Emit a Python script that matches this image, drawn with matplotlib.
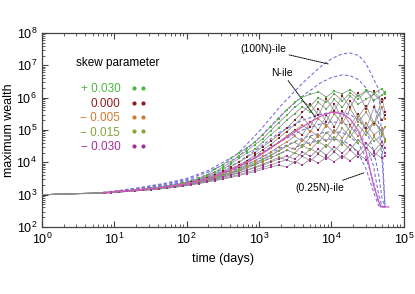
import matplotlib
matplotlib.use("Agg")
import matplotlib.pyplot as plt
from matplotlib.lines import Line2D
from matplotlib.ticker import LogLocator, LogFormatterMathtext, NullFormatter
import numpy as np

plt.rcParams["font.family"] = ["Liberation Sans", "DejaVu Sans"]
plt.rcParams["mathtext.default"] = "regular"

# sampling times (days) of the simulated runs
times = [7.1, 9.1, 11.7, 15.1, 19.5, 25.1, 32.4, 41.7, 53.7, 69.2, 89.1, 115,
         148, 191, 245, 316, 407, 525, 676, 871, 1122, 1445, 1862, 2399,
         3090, 3981, 5129, 6607, 8511, 10965, 14125, 18197, 23442, 30200,
         38905, 50119, 55000]

# log10 of maximum wealth, three runs per skew parameter
green_a = [3.06, 3.08, 3.10, 3.12, 3.15, 3.17, 3.20, 3.23, 3.27, 3.31, 3.36, 3.42, 3.50,
           3.62, 3.78, 3.92, 4.12, 4.28, 4.45, 4.62, 4.85, 5.10, 5.35, 5.62, 5.85, 6.02,
           6.10, 6.18, 6.02, 6.20, 6.12, 6.25, 6.05, 6.22, 6.15, 6.28, 6.10]
green_b = [3.06, 3.08, 3.10, 3.12, 3.14, 3.17, 3.19, 3.22, 3.26, 3.30, 3.35, 3.41, 3.48,
           3.58, 3.70, 3.85, 4.00, 4.20, 4.35, 4.55, 4.72, 4.98, 5.22, 5.45, 5.70, 5.88,
           5.75, 6.00, 5.85, 6.12, 5.90, 6.15, 5.95, 6.20, 5.92, 6.08, 6.18]
green_c = [3.05, 3.07, 3.09, 3.11, 3.14, 3.16, 3.19, 3.22, 3.25, 3.29, 3.34, 3.40, 3.46,
           3.55, 3.65, 3.78, 3.95, 4.12, 4.28, 4.40, 4.62, 4.85, 5.05, 5.30, 5.50, 5.72,
           5.55, 5.85, 5.65, 5.95, 5.70, 6.05, 5.80, 5.95, 6.10, 5.85, 6.00]
red_a = [3.06, 3.08, 3.10, 3.12, 3.14, 3.16, 3.18, 3.21, 3.24, 3.28, 3.33, 3.38, 3.44,
         3.52, 3.62, 3.72, 3.86, 4.00, 4.15, 4.30, 4.48, 4.65, 4.85, 5.05, 5.30, 5.55,
         5.80, 5.45, 5.95, 5.60, 6.05, 5.70, 6.15, 5.65, 6.20, 5.85, 6.00]
red_b = [3.06, 3.08, 3.10, 3.12, 3.14, 3.16, 3.18, 3.21, 3.24, 3.28, 3.32, 3.37, 3.43,
         3.50, 3.58, 3.68, 3.80, 3.92, 4.05, 4.22, 4.38, 4.55, 4.75, 4.95, 5.15, 5.40,
         5.10, 5.65, 5.25, 5.80, 5.35, 5.90, 5.40, 5.75, 5.20, 5.95, 5.55]
red_c = [3.05, 3.07, 3.09, 3.11, 3.13, 3.15, 3.17, 3.20, 3.23, 3.27, 3.31, 3.36, 3.42,
         3.48, 3.55, 3.64, 3.74, 3.85, 3.98, 4.12, 4.28, 4.45, 4.62, 4.80, 5.00, 4.85,
         5.25, 5.00, 5.45, 5.10, 5.60, 5.15, 5.50, 5.05, 5.70, 5.30, 5.45]
orange_a = [3.06, 3.08, 3.10, 3.12, 3.14, 3.16, 3.18, 3.21, 3.24, 3.28, 3.32, 3.37, 3.43,
            3.48, 3.56, 3.65, 3.76, 3.88, 4.00, 4.14, 4.30, 4.45, 4.62, 4.80, 4.98, 5.15,
            4.95, 5.35, 5.10, 5.50, 5.20, 5.65, 5.25, 5.55, 5.15, 5.70, 5.35]
orange_b = [3.05, 3.07, 3.09, 3.11, 3.13, 3.15, 3.17, 3.20, 3.23, 3.26, 3.30, 3.35, 3.40,
            3.46, 3.53, 3.61, 3.70, 3.80, 3.92, 4.05, 4.18, 4.32, 4.48, 4.62, 4.80, 4.65,
            4.98, 4.78, 5.15, 4.90, 5.30, 4.95, 5.40, 5.00, 5.25, 4.90, 5.10]
orange_c = [3.05, 3.07, 3.09, 3.11, 3.13, 3.15, 3.17, 3.20, 3.23, 3.26, 3.30, 3.35, 3.40,
            3.45, 3.51, 3.58, 3.66, 3.75, 3.85, 3.96, 4.08, 4.20, 4.35, 4.50, 4.40, 4.68,
            4.55, 4.85, 4.65, 5.00, 4.75, 5.12, 4.80, 5.20, 4.85, 5.05, 4.70]
olive_a = [3.05, 3.07, 3.09, 3.11, 3.13, 3.15, 3.17, 3.20, 3.23, 3.26, 3.30, 3.35, 3.40,
           3.45, 3.52, 3.60, 3.68, 3.78, 3.88, 3.98, 4.10, 4.22, 4.36, 4.50, 4.62, 4.48,
           4.78, 4.60, 4.92, 4.70, 5.05, 4.78, 5.15, 4.85, 5.25, 4.95, 5.10]
olive_b = [3.05, 3.07, 3.08, 3.10, 3.12, 3.14, 3.16, 3.18, 3.21, 3.24, 3.28, 3.32, 3.37,
           3.44, 3.50, 3.57, 3.64, 3.72, 3.82, 3.92, 4.02, 4.13, 4.25, 4.38, 4.28, 4.52,
           4.38, 4.65, 4.48, 4.78, 4.55, 4.90, 4.60, 4.98, 4.65, 4.85, 4.72]
olive_c = [3.05, 3.07, 3.08, 3.10, 3.12, 3.14, 3.16, 3.18, 3.21, 3.24, 3.28, 3.32, 3.37,
           3.43, 3.48, 3.54, 3.61, 3.68, 3.76, 3.85, 3.94, 4.04, 4.15, 4.08, 4.30, 4.18,
           4.42, 4.28, 4.55, 4.35, 4.62, 4.40, 4.70, 4.45, 4.78, 4.50, 4.62]
purple_a = [3.05, 3.07, 3.08, 3.10, 3.12, 3.14, 3.16, 3.18, 3.21, 3.24, 3.28, 3.32, 3.36,
            3.42, 3.47, 3.53, 3.60, 3.67, 3.75, 3.83, 3.91, 4.00, 4.10, 4.20, 4.10, 4.32,
            4.18, 4.40, 4.22, 4.48, 4.28, 4.55, 4.32, 4.60, 4.35, 4.62, 4.45]
purple_b = [3.05, 3.06, 3.08, 3.10, 3.12, 3.14, 3.16, 3.18, 3.20, 3.23, 3.27, 3.31, 3.35,
            3.40, 3.45, 3.50, 3.56, 3.62, 3.69, 3.76, 3.84, 3.92, 4.00, 4.08, 3.98, 4.18,
            4.05, 4.25, 4.10, 4.32, 4.12, 4.38, 4.15, 4.45, 4.18, 4.50, 4.28]
purple_c = [3.04, 3.06, 3.08, 3.10, 3.11, 3.13, 3.15, 3.17, 3.20, 3.23, 3.26, 3.30, 3.34,
            3.39, 3.43, 3.48, 3.53, 3.59, 3.65, 3.71, 3.78, 3.85, 3.92, 3.85, 4.02, 3.92,
            4.10, 3.98, 4.15, 4.02, 4.20, 4.05, 4.25, 4.08, 4.30, 4.12, 4.20]

# quantile curves (log10 wealth)
q_times = [7, 10, 20, 50, 100, 200, 500, 1000, 2000, 4000, 7000, 10000, 14000,
           18000, 24000, 30000, 38000, 45000, 50000, 55000]
q_100n = [3.07, 3.11, 3.20, 3.35, 3.50, 3.75, 4.25, 4.95, 5.75, 6.45, 6.95, 7.20, 7.35,
          7.38, 7.30, 7.05, 6.60, 6.25, 4.60, 2.62]
q_10n = [3.07, 3.10, 3.19, 3.33, 3.47, 3.70, 4.15, 4.75, 5.45, 6.05, 6.45, 6.62, 6.70,
         6.68, 6.55, 6.30, 5.90, 5.20, 4.10, 2.62]
q_3 = [3.06, 3.09, 3.17, 3.30, 3.43, 3.62, 3.98, 4.45, 4.95, 5.30, 5.48, 5.55, 5.55,
       5.48, 5.30, 5.00, 4.40, 3.60, 2.90, 2.62]
q_4 = [3.06, 3.09, 3.16, 3.28, 3.40, 3.56, 3.88, 4.25, 4.65, 5.00, 5.18, 5.25, 5.22,
       5.12, 4.90, 4.55, 3.90, 3.00, 2.65, 2.62]
q_5 = [3.06, 3.08, 3.15, 3.26, 3.37, 3.52, 3.80, 4.10, 4.45, 4.75, 4.90, 4.95, 4.92,
       4.80, 4.55, 4.15, 3.40, 2.75, 2.62, 2.62]
q_quarter = [3.06, 3.08, 3.14, 3.24, 3.34, 3.48, 3.72, 3.98, 4.28, 4.55, 4.68, 4.72, 4.68,
             4.55, 4.25, 3.80, 3.10, 2.65, 2.62, 2.62]

n_times = [7, 20, 50, 100, 200, 500, 1000, 2000, 4000, 7000, 10000, 14000, 18000,
           24000, 30000, 38000, 45000, 48000, 62000]
n_ile = [3.06, 3.14, 3.24, 3.33, 3.50, 3.85, 4.20, 4.65, 5.10, 5.42, 5.55, 5.50, 5.35,
         4.95, 4.35, 3.30, 2.80, 2.62, 2.62]

skew_labels = ["+ 0.030", "0.000", "\u2212 0.005", "\u2212 0.015", "\u2212 0.030"]
skew_colors = ["#4cb840", "#8e1c1c", "#d27a2c", "#84a43c", "#a62e94"]
runs = [[green_a, green_b, green_c], [red_a, red_b, red_c],
        [orange_a, orange_b, orange_c], [olive_a, olive_b, olive_c],
        [purple_a, purple_b, purple_c]]

fig = plt.figure(figsize=(4.15, 2.94), dpi=100)
ax = fig.add_axes([0.101, 0.228, 0.872, 0.660])

qcol = "#7474dc"
for q in [q_100n, q_10n, q_3, q_4, q_5, q_quarter]:
    ax.plot(q_times, 10 ** np.array(q), color=qcol, lw=0.8, ls=(0, (3, 2)), zorder=2)

t = np.array(times)
for col, group in zip(skew_colors, runs):
    for r in group:
        w = 10 ** np.array(r)
        ax.plot(np.r_[1, t], np.r_[1000, w], color="#8c8c8c", lw=0.55, zorder=3)
        ax.plot(t, w, ls="none", marker="s", ms=2.0, mew=0, color=col, zorder=4)

ax.plot(n_times, 10 ** np.array(n_ile), color="#d458c0", lw=0.9, zorder=5)

ax.set_xscale("log")
ax.set_yscale("log")
ax.set_xlim(1, 1e5)
ax.set_ylim(1e2, 1e8)
for axis in [ax.xaxis, ax.yaxis]:
    axis.set_major_locator(LogLocator(base=10, numticks=20))
    axis.set_minor_locator(LogLocator(base=10, subs=np.arange(2, 10), numticks=20))
    axis.set_major_formatter(LogFormatterMathtext())
    axis.set_minor_formatter(NullFormatter())
ax.tick_params(which="both", direction="in", top=True, right=True, color="#444444",
               labelsize=9)
ax.tick_params(which="major", length=4, width=0.8)
ax.tick_params(which="minor", length=2, width=0.6)
for s in ax.spines.values():
    s.set_color("#444444")
    s.set_linewidth(0.9)

ax.set_xlabel("time (days)", fontsize=9, labelpad=4)
ax.set_ylabel("maximum wealth", fontsize=9, labelpad=1)

ax.text(0.21, 0.845, "skew parameter", transform=ax.transAxes, fontsize=8.5,
        ha="center", va="center")
handles = [Line2D([], [], ls="none", marker="o", ms=3, mew=0, color=c)
           for c in skew_colors]
leg = ax.legend(handles, skew_labels, loc="upper left", bbox_to_anchor=(0.09, 0.77),
                frameon=False, markerfirst=False, numpoints=2, handlelength=1.3,
                handletextpad=0.9, labelspacing=0.2, fontsize=8.5, borderpad=0)
for txt, c in zip(leg.get_texts(), skew_colors):
    txt.set_color(c)

arrow = dict(arrowstyle="-", ls=(0, (1, 1)), color="k", lw=0.7, shrinkA=0, shrinkB=0)
ax.annotate("(100N)-ile", xy=(9000, 1.1e7), xytext=(1150, 3.2e7), fontsize=7.5,
            ha="center", va="center", arrowprops=arrow)
ax.annotate("N-ile", xy=(6000, 2.5e5), xytext=(2100, 5.8e6), fontsize=7.5,
            ha="center", va="center", arrowprops=arrow)
ax.annotate("(0.25N)-ile", xy=(28000, 4.7e3), xytext=(7000, 1.6e3), fontsize=7.5,
            ha="center", va="center", arrowprops=arrow)

fig.savefig("out.png", dpi=100)
